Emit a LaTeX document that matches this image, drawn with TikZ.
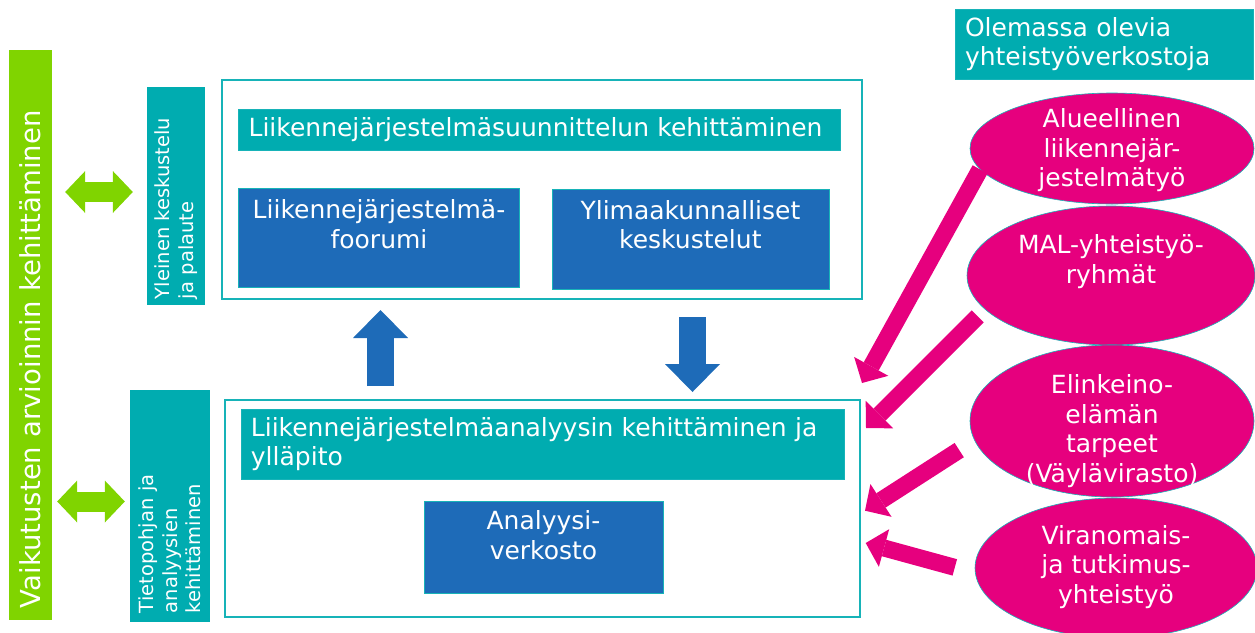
\documentclass[tikz,border=0pt]{standalone}
\usepackage{fontspec}
\setmainfont{DejaVu Sans}
\usetikzlibrary{arrows.meta,shapes.geometric}

\newcommand{\mainfs}{\fontsize{25}{29.5}\selectfont}
\newcommand{\bigfs}{\fontsize{27.5}{33}\selectfont}
\newcommand{\sidefs}{\fontsize{19.5}{23.5}\selectfont}

\begin{document}
\begin{tikzpicture}[x=1pt,y=-1pt,
  outerbox/.style={draw=color4,line width=2pt,fill=white},
  band/.style={fill=color1,draw=color4,line width=0.6pt,text=white,font=\mainfs,align=left,inner xsep=10pt,inner ysep=0pt},
  bluebox/.style={fill=color2,draw=color4,line width=0.6pt},
  boxtext/.style={text=white,font=\mainfs,align=center,inner sep=0pt},
  sidebox/.style={fill=color1,text=white,font=\sidefs,rotate=90,align=left,inner ysep=0pt},
  sidebar/.style={fill=color0,text=white,font=\bigfs,rotate=90,align=left,inner ysep=0pt},
  network/.style={ellipse,fill=color3,draw=color4,line width=0.6pt,inner sep=0pt},
  nettext/.style={text=white,font=\mainfs,align=center,inner sep=0pt},
  greenarrow/.style={draw=color0,line width=20pt,{Triangle[length=20pt,width=42pt,line width=0pt]}-{Triangle[length=20pt,width=42pt,line width=0pt]}},
  bluearrow/.style={draw=color2,line width=27pt,-{Triangle[length=28pt,width=55pt,line width=0pt]}},
  pinkarrow/.style={draw=color3,line width=17pt,-{Triangle[length=19pt,width=39pt,line width=0pt]}}]
\definecolor{color0}{HTML}{80D400}
\definecolor{color1}{HTML}{00ACB0}
\definecolor{color2}{HTML}{1E6BB8}
\definecolor{color3}{HTML}{E6007E}
\definecolor{color4}{HTML}{17B3B8}
\clip (0,0) rectangle (1255,632);
% left column
\node[sidebar,minimum width=570,minimum height=43,inner xsep=12pt,text width=546] (vbar) at (30.5,335) {Vaikutusten arvioinnin kehittäminen};
\node[sidebox,minimum width=218,minimum height=58,inner xsep=6pt,text width=206] (yleinen) at (176,196) {Yleinen keskustelu\\ja palaute};
\node[sidebox,minimum width=232,minimum height=80,inner xsep=9pt,text width=214] (tieto) at (170,506) {Tietopohjan ja\\analyysien\\kehittäminen};
% planning box
\node[outerbox,minimum width=640,minimum height=219] (plan) at (542,189.5) {};
\node[band,minimum width=602,minimum height=41,text width=582] (plantitle) at (539.6,129.3) {Liikennejärjestelmäsuunnittelun kehittäminen};
\node[bluebox,minimum width=281,minimum height=99] (forum) at (379,237.3) {};
\node[boxtext,yshift=13pt] (forumtxt) at (forum) {Liikennejärjestelmä-\\foorumi};
\node[bluebox,minimum width=277,minimum height=100] (kesk) at (690.4,239) {};
\node[boxtext,yshift=14.5pt] (keskTxt) at (kesk) {Ylimaakunnalliset\\keskustelut};
% analysis box
\node[outerbox,minimum width=635,minimum height=217] (anal) at (542.5,508.5) {};
\node[band,minimum width=603,minimum height=70,text width=583] (analtitle) at (542.4,444) {Liikennejärjestelmäanalyysin kehittäminen ja\\ylläpito};
\node[bluebox,minimum width=239,minimum height=92] (verkosto) at (543.5,547) {};
\node[boxtext,yshift=12pt] (verkostoTxt) at (verkosto) {Analyysi-\\verkosto};
% networks
\node[band,minimum width=298,minimum height=70,text width=278] (olemassa) at (1104,44) {Olemassa olevia\\yhteistyöverkostoja};
\node[network,minimum width=284,minimum height=111] (alue) at (1112,148.5) {};
\node[nettext,yshift=-2pt] (alueTxt) at (alue) {Alueellinen\\liikennejär-\\jestelmätyö};
\node[network,minimum width=288,minimum height=139] (mal) at (1111,275.5) {};
\node[nettext,yshift=14pt] (malTxt) at (mal) {MAL-yhteistyö-\\ryhmät};
\node[network,minimum width=284,minimum height=152] (elink) at (1112,421) {};
\node[nettext,yshift=-10pt] (elinkTxt) at (elink) {Elinkeino-\\elämän\\tarpeet\\(Väylävirasto)};
\node[network,minimum width=282,minimum height=140] (viran) at (1116,568) {};
\node[nettext,yshift=1pt] (viranTxt) at (viran) {Viranomais-\\ja tutkimus-\\yhteistyö};
% arrows
\coordinate (g1) at (0,192);
\coordinate (g2) at (0,501.5);
\draw[greenarrow,shorten <=13pt,shorten >=14pt] (vbar.south |- g1) -- (yleinen.north |- g1);
\draw[greenarrow,shorten <=5pt,shorten >=5pt] (vbar.south |- g2) -- (tieto.north |- g2);
\coordinate (upx) at (380.5,0);
\coordinate (downx) at (692.5,0);
\draw[bluearrow,shorten <=13pt,shorten >=10pt] (anal.north -| upx) -- (plan.south -| upx);
\draw[bluearrow,shorten <=17pt,shorten >=7pt] (plan.south -| downx) -- (anal.north -| downx);
\coordinate (t1) at (862,383);
\coordinate (t2) at (866,428);
\coordinate (t3) at (865,510.7);
\coordinate (t4) at (865.7,543);
\draw[pinkarrow] (alue.189) -- (t1);
\draw[pinkarrow,shorten <=10pt] (mal.195) -- (t2);
\draw[pinkarrow,shorten <=18pt] (elink.188) -- (t3);
\draw[pinkarrow,shorten <=21pt] (viran.182) -- (t4);
\end{tikzpicture}
\end{document}
